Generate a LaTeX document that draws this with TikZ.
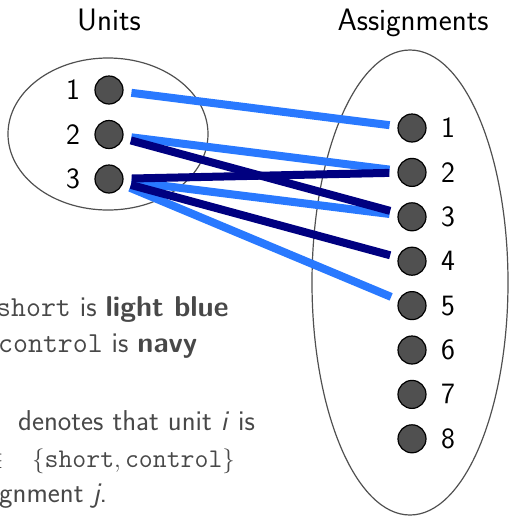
\documentclass[tikz,border=0pt]{standalone}
\usepackage{fontspec}
\usepackage{tikz}
\usetikzlibrary{positioning}
\renewcommand{\familydefault}{\sfdefault}
\definecolor{lightblu}{RGB}{41,121,255}
\definecolor{navyblu}{RGB}{0,0,128}
\definecolor{notegray}{RGB}{72,72,72}
\definecolor{dotgray}{RGB}{80,80,80}
\newcommand{\notett}[1]{{\fontsize{29}{36}\selectfont\texttt{#1}}}
\begin{document}
\begin{tikzpicture}[x=1pt, y=-1pt, font=\fontsize{29.5}{36}\selectfont,
  dot/.style={circle, draw=black, fill=dotgray, line width=1.2pt, minimum size=28pt, inner sep=0pt},
  udot/.style={dot, label={[label distance=11pt]left:#1}},
  adot/.style={dot, label={[label distance=11pt]right:#1}},
  ring/.style={draw=dotgray, line width=1.2pt},
  shortedge/.style={line width=8pt, draw=lightblu, shorten <=8pt, shorten >=8pt},
  controledge/.style={line width=8pt, draw=navyblu, shorten <=8pt, shorten >=8pt},
  title/.style={anchor=base, font=\fontsize{31}{36}\selectfont},
  note/.style={anchor=base west, inner sep=0pt, text=notegray, font=\fontsize{28.7}{36}\selectfont}]
\useasboundingbox (0,0) rectangle (509,517);
% sets
\draw[ring] (108,134) ellipse [x radius=100, y radius=76];
\draw[ring] (410,282.5) ellipse [x radius=98, y radius=232.5];
\node[title] (unitstitle) at (109,30) {Units};
\node[title] (assigntitle) at (413,30) {Assignments};
% units and assignments
\foreach \i in {1,2,3}
  \node[udot=\i] (u\i) at (109,{90+44.5*(\i-1)}) {};
\foreach \i in {1,...,8}
  \node[adot=\i] (a\i) at (412,{128+44.4*(\i-1)}) {};
% edges
\draw[shortedge] (u1) -- (a1);
\draw[shortedge] (u2) -- (a2);
\draw[shortedge] (u3) -- (a3);
\draw[shortedge] (u3) -- (a5);
\draw[controledge] (u2) -- (a3);
\draw[controledge] (u3) -- (a2);
\draw[controledge] (u3) -- (a4);
% legend
\node[note] (shortnote) at (-4,316) {\notett{short} is \textbf{light blue}};
\node[note] (controlnote) at (-2,352) {\notett{control} is \textbf{navy}};
\node[note] (denoteone) at (18,430) {denotes that unit \textit{i} is};
\node[note, anchor=base east] (innote) at (4,467) {\fontsize{27}{36}\selectfont$\in$};
\node[note] (setnote) at (32,467) {\fontsize{27}{36}\selectfont$\{\mathtt{short},\mathtt{control}\}$};
\node[note] (denotethree) at (-1,502) {gnment \textit{j}.};
\end{tikzpicture}
\end{document}
